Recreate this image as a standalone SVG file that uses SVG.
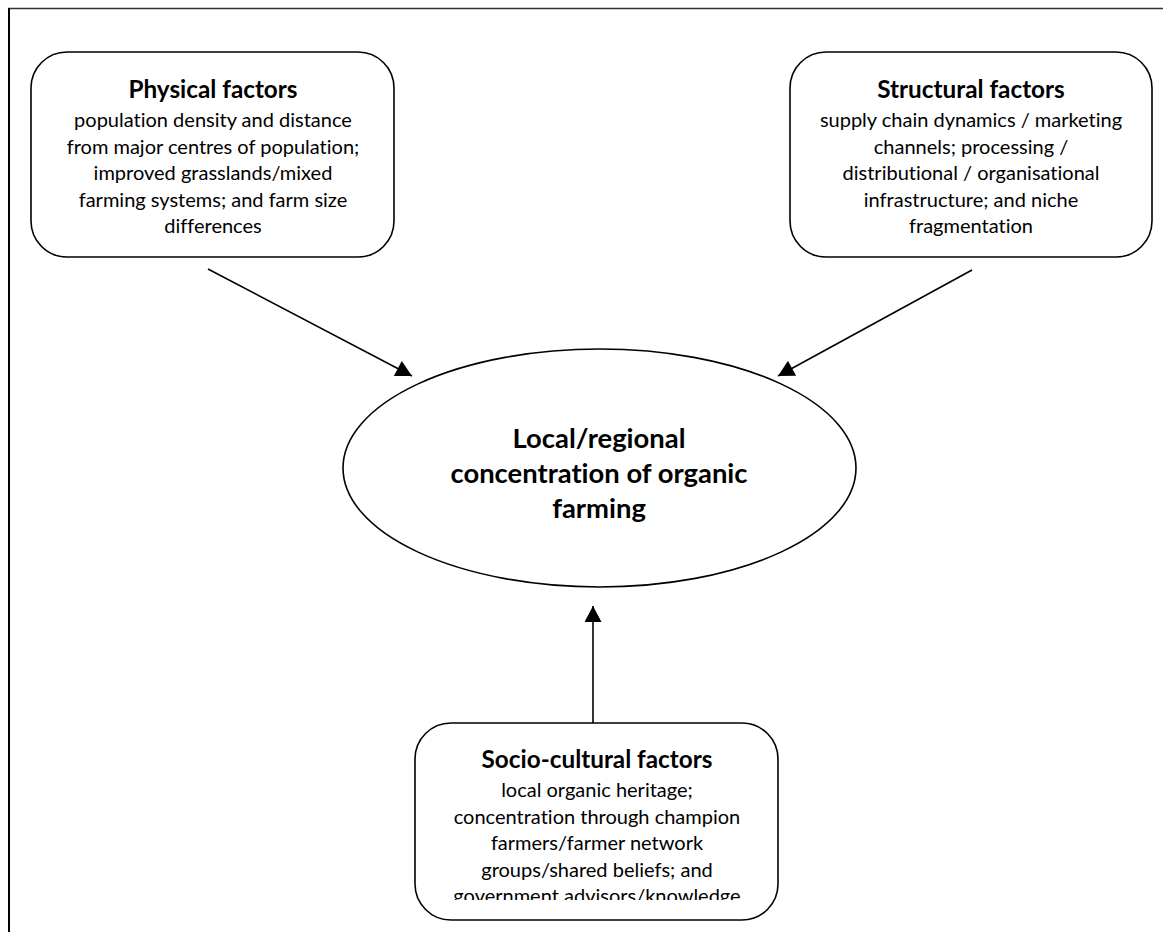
<svg xmlns="http://www.w3.org/2000/svg" width="1163" height="932" viewBox="0 0 1163 932">
<style>
text{font-family:Lato,"Liberation Sans",sans-serif;text-anchor:middle;fill:#000;font-variant-ligatures:none}
.box{fill:#fff;stroke:#000;stroke-width:1.6}
.t{font-weight:bold;font-size:24.3px}
.b{font-size:20px}
.e{font-weight:bold;font-size:27.4px}
.c{stroke:#000;stroke-width:1.6;fill:none}
</style>
<defs>
<marker id="ah" markerUnits="userSpaceOnUse" markerWidth="18" markerHeight="17" refX="16" refY="8.5" orient="auto" viewBox="0 0 16 17">
<path d="M0,0 L16,8.5 L0,17 Z" fill="#000"/>
</marker>
<clipPath id="clipS"><rect x="416" y="724" width="362" height="176"/></clipPath>
</defs>
<rect width="1163" height="932" fill="#fff"/>
<g id="frame">
<line x1="8" y1="8.5" x2="1163" y2="8.5" stroke="#333" stroke-width="1.5"/>
<line x1="9" y1="8" x2="9" y2="932" stroke="#000" stroke-width="2"/>
</g>
<g id="connectors">
<line class="c" x1="208" y1="269" x2="412" y2="376" marker-end="url(#ah)"/>
<line class="c" x1="972" y1="270" x2="778" y2="376" marker-end="url(#ah)"/>
<line class="c" x1="593" y1="723" x2="593" y2="606" marker-end="url(#ah)"/>
</g>
<g id="physical">
<rect class="box" x="31" y="52" width="363" height="205" rx="36"/>
<text class="t" x="213" y="98">Physical factors</text>
<text class="b" x="213" y="127">population density and distance</text>
<text class="b" x="213" y="153.5">from major centres of population;</text>
<text class="b" x="213" y="180">improved grasslands/mixed</text>
<text class="b" x="213" y="206.5">farming systems; and farm size</text>
<text class="b" x="213" y="233">differences</text>
</g>
<g id="structural">
<rect class="box" x="790" y="52" width="362" height="205" rx="36"/>
<text class="t" x="971" y="98">Structural factors</text>
<text class="b" x="971" y="127">supply chain dynamics / marketing</text>
<text class="b" x="971" y="153.5">channels; processing /</text>
<text class="b" x="971" y="180">distributional / organisational</text>
<text class="b" x="971" y="206.5">infrastructure; and niche</text>
<text class="b" x="971" y="233">fragmentation</text>
</g>
<g id="centre">
<ellipse class="box" cx="599.5" cy="468" rx="256.5" ry="119"/>
<text class="e" x="599" y="448">Local/regional</text>
<text class="e" x="599" y="483">concentration of organic</text>
<text class="e" x="599" y="518">farming</text>
</g>
<g id="sociocultural">
<rect class="box" x="415" y="723" width="363" height="197" rx="36"/>
<g clip-path="url(#clipS)">
<text class="t" x="597" y="768">Socio-cultural factors</text>
<text class="b" x="597" y="797">local organic heritage;</text>
<text class="b" x="597" y="823.5">concentration through champion</text>
<text class="b" x="597" y="850">farmers/farmer network</text>
<text class="b" x="597" y="876.5">groups/shared beliefs; and</text>
<text class="b" x="597" y="903">government advisors/knowledge</text>
</g>
</g>
</svg>
